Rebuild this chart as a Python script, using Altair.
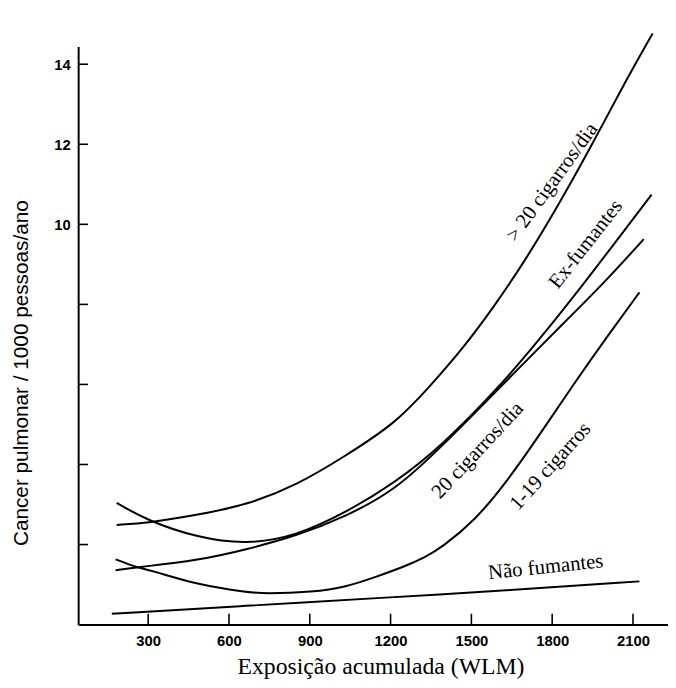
import altair as alt
import pandas as pd

# ---- data (x: WLM, y: cases / 1000 persons / year) ----
gt20_x = [183, 300, 484, 667, 851, 1034, 1218, 1339, 1464, 1585, 1706, 1831, 1953, 2074, 2173]
gt20_y = [2.49, 2.54, 2.74, 2.99, 3.48, 4.22, 5.03, 5.9, 6.86, 7.95, 9.16, 10.57, 12.05, 13.6, 14.77]

ex_x = [183, 300, 484, 667, 851, 1034, 1218, 1390, 1596, 1750, 1926, 2051, 2169]
ex_y = [3.04, 2.59, 2.17, 2.0, 2.22, 2.8, 3.55, 4.47, 5.88, 7.1, 8.59, 9.7, 10.74]

c20_x = [179, 256, 484, 667, 851, 1034, 1218, 1390, 1596, 1860, 2000, 2140]
c20_y = [1.36, 1.43, 1.6, 1.88, 2.22, 2.7, 3.36, 4.45, 5.86, 7.65, 8.59, 9.63]

c119_x = [179, 256, 300, 484, 667, 730, 913, 1034, 1145, 1255, 1328, 1390, 1512, 1633, 1758, 1879, 2000, 2124]
c119_y = [1.63, 1.43, 1.38, 0.99, 0.81, 0.77, 0.81, 0.94, 1.19, 1.46, 1.68, 1.93, 2.59, 3.58, 4.79, 6.0, 7.16, 8.3]

nf_x = [165, 667, 1145, 1650, 2124]
nf_y = [0.27, 0.47, 0.66, 0.86, 1.08]

x_ticks = [300, 600, 900, 1200, 1500, 1800, 2100]
y_ticks = [2, 4, 6, 8, 10, 12, 14]

label_text = ["> 20 cigarros/dia", "Ex-fumantes", "20 cigarros/dia", "1-19 cigarros", "Não fumantes"]
label_x = [1800, 1925, 1524, 1794, 1776]
label_y = [11.05, 9.5, 4.35, 3.95, 1.43]
label_angle = [306, 308, 313, 312, 354]

X_DOMAIN = [40, 2230]
Y_DOMAIN = [0, 14.44]
W, H = 597, 585

series = [
    ("> 20 cigarros/dia", gt20_x, gt20_y),
    ("Ex-fumantes", ex_x, ex_y),
    ("20 cigarros/dia", c20_x, c20_y),
    ("1-19 cigarros", c119_x, c119_y),
    ("Não fumantes", nf_x, nf_y),
]
rows = []
for name, xs_, ys_ in series:
    for i, (a, b) in enumerate(zip(xs_, ys_)):
        rows.append({"serie": name, "x": a, "y": b, "ordem": i})
df = pd.DataFrame(rows)

xs = alt.Scale(domain=X_DOMAIN, nice=False, zero=False)
ys = alt.Scale(domain=Y_DOMAIN, nice=False, zero=False)

X_TITLE = "Exposição acumulada (WLM)"
Y_TITLE = "Cancer pulmonar / 1000 pessoas/ano"

x_axis = alt.Axis(
    values=x_ticks, format="d", tickSize=0, grid=False,
    labelFont="Liberation Sans", labelFontWeight="bold", labelFontSize=15,
    labelColor="black", labelPadding=9,
    domainColor="black", domainWidth=2,
    title=X_TITLE, titleFont="Liberation Serif",
    titleFontSize=24, titleFontWeight="normal", titleColor="black",
    titleX=306, titleY=42, titleAlign="center", titleBaseline="middle",
)
y_axis = alt.Axis(
    values=y_ticks, tickSize=0, grid=False,
    labelExpr="datum.value >= 10 ? datum.label : ''",
    labelFont="Liberation Sans", labelFontWeight="bold", labelFontSize=15,
    labelColor="black", labelPadding=8,
    domainColor="black", domainWidth=2,
    title=Y_TITLE, titleFont="Liberation Sans",
    titleFontSize=21, titleFontWeight="normal", titleColor="black",
    titleX=-57, titleY=330, titleAngle=270, titleAlign="center", titleBaseline="middle",
)


def X(field):
    return alt.X(field, scale=xs, axis=x_axis, title=X_TITLE)


def Y(field):
    return alt.Y(field, scale=ys, axis=y_axis, title=Y_TITLE)


lines = alt.Chart(df).mark_line(
    interpolate="basis", color="black", strokeWidth=2, clip=False
).encode(
    x=X("x:Q"), y=Y("y:Q"), detail="serie:N", order="ordem:Q",
)

xt = alt.Chart(pd.DataFrame({"x": x_ticks})).mark_rule(color="black", strokeWidth=1.6).encode(
    x=X("x:Q"), y=alt.value(H), y2=alt.value(H - 11)
)
yt = alt.Chart(pd.DataFrame({"y": y_ticks})).mark_rule(color="black", strokeWidth=1.6).encode(
    y=Y("y:Q"), x=alt.value(0), x2=alt.value(10)
)

labels_df = pd.DataFrame({"txt": label_text, "x": label_x, "y": label_y})
texts = []
for i in range(len(label_text)):
    texts.append(
        alt.Chart(labels_df.iloc[[i]]).mark_text(
            font="Liberation Serif", fontSize=21, color="black",
            angle=label_angle[i], align="center", baseline="middle",
        ).encode(x=X("x:Q"), y=Y("y:Q"), text="txt:N")
    )

chart = alt.layer(lines, xt, yt, *texts).properties(
    width=W, height=H,
    autosize=alt.AutoSizeParams(type="none"),
    padding={"left": 71, "top": 35, "right": 0, "bottom": 52},
    background="white",
).configure_view(stroke=None).configure_axisX(
    titleFont="Liberation Serif", titleFontSize=24, titleFontWeight="normal"
).configure_axisY(
    titleFont="Liberation Sans", titleFontSize=21, titleFontWeight="normal"
)

chart.save("out.html", embed_options={"renderer": "svg", "actions": False})
